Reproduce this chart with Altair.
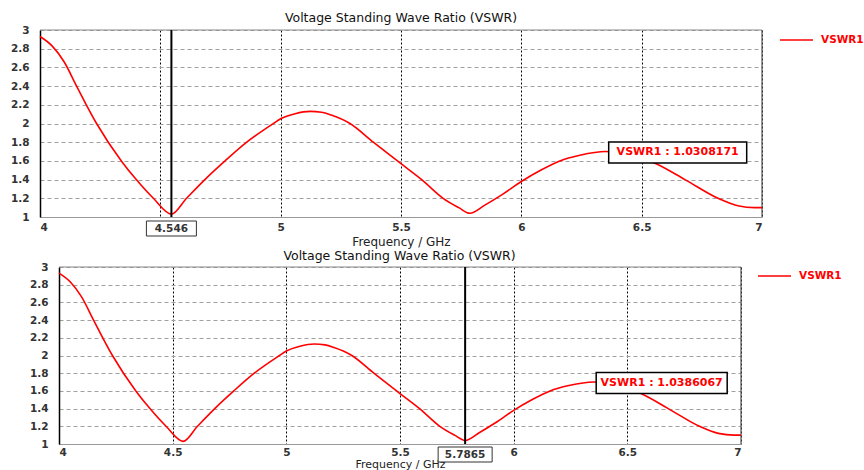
import altair as alt
import pandas as pd

# ---- data ----
freq = [4.0, 4.05, 4.10, 4.152, 4.235, 4.338, 4.40, 4.471, 4.546, 4.609, 4.685,
        4.769, 4.859, 4.97, 5.0, 5.06, 5.122, 5.17, 5.21, 5.288, 5.385, 5.5, 5.586,
        5.675, 5.74, 5.786, 5.85, 5.92, 6.0, 6.08, 6.16, 6.243, 6.35, 6.45, 6.56, 6.68,
        6.817, 6.9, 6.97, 7.0]
vswr = [2.93, 2.83, 2.66, 2.40, 2.00, 1.60, 1.40, 1.20, 1.03, 1.20, 1.40,
        1.60, 1.80, 2.00, 2.05, 2.105, 2.13, 2.12, 2.09, 2.00, 1.80, 1.57, 1.40,
        1.20, 1.10, 1.04, 1.13, 1.24, 1.38, 1.50, 1.60, 1.66, 1.70, 1.67, 1.57, 1.40,
        1.20, 1.12, 1.10, 1.10]
series_name = "VSWR1"
marker_freqs = [4.546, 5.7865]
marker_labels = ["4.546", "5.7865"]
marker_values = ["1.0308171", "1.0386067"]
ann_anchor_freq = 6.363
ann_anchor_vswr = 1.69
x_ticks = [4, 4.5, 5, 5.5, 6, 6.5, 7]
y_ticks = [1, 1.2, 1.4, 1.6, 1.8, 2, 2.2, 2.4, 2.6, 2.8, 3]
x_domain = [4, 7]
y_domain = [1, 3]

df = pd.DataFrame({"f": freq, "v": vswr, "s": series_name})

FONT = "DejaVu Sans"
RED = "#ff0000"
TITLE = "Voltage Standing Wave Ratio (VSWR)"


def panel(width, height, x_range, idx, hide45, legx, legy, boxw, annw, title_dx,
          title_off, xtitle_y, xtitle_size, xlabel_pad, box_top):
    mk = pd.DataFrame({"f": [marker_freqs[idx]], "lab": [marker_labels[idx]]})
    ann = pd.DataFrame({"f": [ann_anchor_freq], "v": [ann_anchor_vswr],
                        "t": [f"{series_name} : {marker_values[idx]}"]})
    label_expr = "datum.value == 4.5 ? '' : datum.label" if hide45 else "datum.label"
    xaxis = alt.Axis(values=x_ticks, tickCount=len(x_ticks), format="~g",
                     labelExpr=label_expr, grid=True, gridColor="black",
                     gridDash=[2, 2], gridWidth=1, domainColor="#999",
                     ticks=False, labelPadding=xlabel_pad, title="Frequency / GHz",
                     titleY=xtitle_y, titleBaseline="alphabetic",
                     titleFontSize=xtitle_size)
    yaxis = alt.Axis(values=y_ticks, tickCount=len(y_ticks), format="~g", grid=True,
                     gridColor="#a0a0a0", gridDash=[4, 3], gridWidth=1,
                     domainColor="black", domainWidth=1.5, ticks=False,
                     labelPadding=11, title=None, minExtent=35, offset=-x_range[0])
    xs = alt.Scale(domain=x_domain, range=x_range, nice=False, zero=False)
    ys = alt.Scale(domain=y_domain, nice=False, zero=False)

    line = alt.Chart(df).mark_line(strokeWidth=1.6, interpolate="monotone").encode(
        x=alt.X("f:Q", scale=xs, axis=xaxis),
        y=alt.Y("v:Q", scale=ys, axis=yaxis),
        color=alt.Color("s:N", scale=alt.Scale(domain=[series_name], range=[RED]),
                        legend=alt.Legend(orient="none", legendX=legx, legendY=legy,
                                          symbolType="stroke", symbolSize=1089,
                                          symbolStrokeWidth=1.5, labelColor=RED,
                                          labelFont=FONT, labelFontWeight="bold",
                                          labelFontSize=10.5, labelOffset=7, padding=0,
                                          title=None)),
    )
    # frame: top and right borders through the scales
    top_border = alt.Chart(df.head(1)).mark_rule(color="#888", strokeWidth=1).encode(
        x=alt.datum(x_domain[0]), x2=alt.datum(x_domain[1]), y=alt.datum(y_domain[1]))
    right_border = alt.Chart(df.head(1)).mark_rule(color="#555", strokeWidth=1.2).encode(
        x=alt.datum(x_domain[1]), y=alt.datum(y_domain[0]), y2=alt.datum(y_domain[1]))
    rule = alt.Chart(mk).mark_rule(color="black", strokeWidth=2).encode(x="f:Q")
    mbox = alt.Chart(mk).mark_rect(fill="white", stroke="#333", strokeWidth=1,
                                   xOffset=-boxw / 2, x2Offset=boxw / 2).encode(
        x="f:Q", x2="f:Q",
        y=alt.value(height + box_top), y2=alt.value(height + box_top + 15))
    mtext = alt.Chart(mk).mark_text(font=FONT, fontWeight="bold", fontSize=10.5,
                                    color="#333", baseline="middle").encode(
        x="f:Q", y=alt.value(height + box_top + 7.5), text="lab:N")
    abox = alt.Chart(ann).mark_rect(fill="white", stroke="black", strokeWidth=1.5,
                                    x2Offset=annw, yOffset=-10.5, y2Offset=10.5).encode(
        x="f:Q", x2="f:Q", y="v:Q", y2="v:Q")
    atext = alt.Chart(ann).mark_text(font=FONT, fontWeight="bold", fontSize=11,
                                     color=RED, dx=annw / 2, baseline="middle").encode(
        x="f:Q", y="v:Q", text="t:N")

    return alt.layer(top_border, right_border, line, rule, abox, atext, mbox, mtext).properties(
        width=width, height=height,
        title=alt.TitleParams(TITLE, font=FONT, fontSize=12.5, fontWeight="normal",
                              color="#111", offset=title_off, anchor="middle",
                              frame="group", dx=title_dx),
    )


top = panel(722, 187, [0, 722], 0, True, 739, -7.5, 50, 138, 0, -2, 28, 12, 5, 4)
bottom = panel(701, 177, [19, 701], 1, False, 717, -8.5, 54, 131, 9, -4, 23.5, 11, 3, 3)

chart = alt.concat(top, bottom, columns=1, spacing=3).resolve_scale(
    color="independent").resolve_legend(color="independent").properties(
    padding={"left": 5, "top": 12, "right": 0, "bottom": 0}
).configure_view(stroke=None).configure_axis(
    labelFont=FONT, labelFontWeight="bold", labelFontSize=10.5, labelColor="#333",
    titleFont=FONT, titleFontWeight="normal", titleFontSize=12, titleColor="#222",
)

chart.save("out.html", embed_options={"renderer": "svg", "actions": False})
